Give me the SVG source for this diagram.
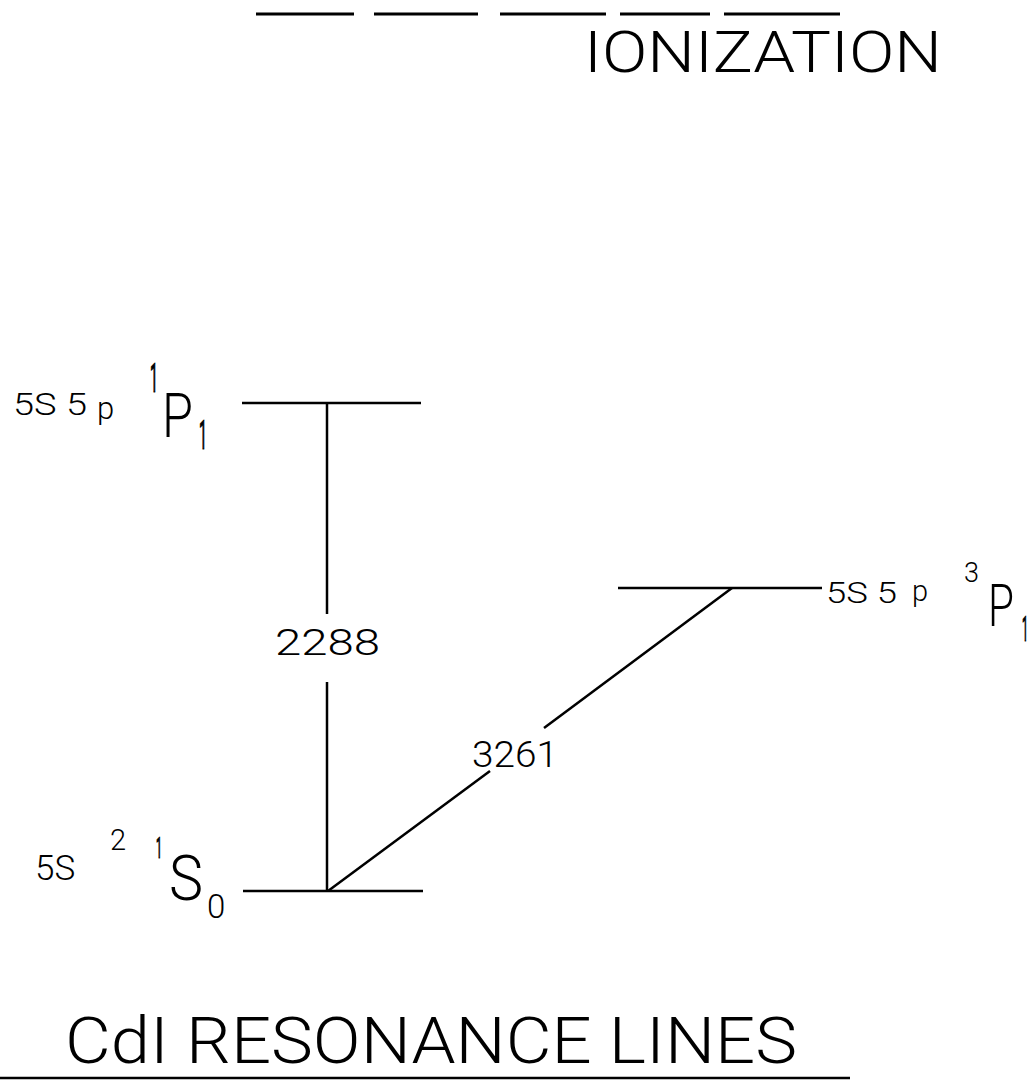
<svg xmlns="http://www.w3.org/2000/svg" width="1032" height="1082" viewBox="0 0 1032 1082">
<style>
text { font-family: Roboto, "Liberation Sans", Arial, sans-serif; font-weight: 300; fill: #000; }
text.bar { font-weight: 400; stroke: #000; stroke-width: 1.2; }
.ln { stroke: #000; stroke-width: 2.5; fill: none; stroke-linecap: butt; }
.dash { stroke: #000; stroke-width: 3; fill: none; }
</style>
<rect width="1032" height="1082" fill="#fff"/>
<g id="ionization">
  <line class="dash" x1="256" y1="14" x2="354" y2="14"/>
  <line class="dash" x1="374" y1="14" x2="478" y2="14"/>
  <line class="dash" x1="500" y1="14" x2="606" y2="14"/>
  <line class="dash" x1="620" y1="14" x2="710" y2="14"/>
  <line class="dash" x1="724" y1="14" x2="840" y2="14"/>
  <text x="584" y="72" font-size="58" textLength="358" lengthAdjust="spacingAndGlyphs">IONIZATION</text>
</g>
<g id="level-1P1">
  <line class="ln" x1="242" y1="403" x2="421" y2="403"/>
  <text x="13" y="415" font-size="31" textLength="74" lengthAdjust="spacingAndGlyphs">5S 5</text>
  <text x="97" y="419" font-size="31">p</text>
  <text class="bar" transform="translate(150,392) scale(0.35,1)" font-size="40">1</text>
  <text x="162" y="437" font-size="62" textLength="31" lengthAdjust="spacingAndGlyphs">P</text>
  <text class="bar" transform="translate(199,449) scale(0.35,1)" font-size="40">1</text>
</g>
<g id="level-3P1">
  <line class="ln" x1="618" y1="588" x2="822" y2="588"/>
  <text x="826" y="603" font-size="29" textLength="71" lengthAdjust="spacingAndGlyphs">5S 5</text>
  <text x="912" y="601" font-size="29">p</text>
  <text x="964" y="582" font-size="27">3</text>
  <text x="988" y="626" font-size="60" textLength="26" lengthAdjust="spacingAndGlyphs">P</text>
  <text class="bar" transform="translate(1022,641) scale(0.3,1)" font-size="36">1</text>
</g>
<g id="level-1S0">
  <line class="ln" x1="243" y1="891" x2="423" y2="891"/>
  <text x="35" y="880" font-size="35">5S</text>
  <text x="110" y="850" font-size="29">2</text>
  <text class="bar" transform="translate(156,858) scale(0.35,1)" font-size="30">1</text>
  <text x="169" y="900" font-size="63" textLength="34" lengthAdjust="spacingAndGlyphs">S</text>
  <text x="207" y="918" font-size="33">0</text>
</g>
<g id="connectors">
  <line class="ln" x1="327" y1="403" x2="327" y2="614"/>
  <line class="ln" x1="327" y1="682" x2="327" y2="891"/>
  <line class="ln" x1="732" y1="588" x2="544" y2="728"/>
  <line class="ln" x1="490" y1="771" x2="328" y2="891"/>
  <text x="275" y="655" font-size="36" textLength="105" lengthAdjust="spacingAndGlyphs">2288</text>
  <text x="472" y="767" font-size="36" textLength="86" lengthAdjust="spacingAndGlyphs">3261</text>
</g>
<g id="title">
  <text x="65" y="1063" font-size="64" textLength="732" lengthAdjust="spacingAndGlyphs">CdI RESONANCE LINES</text>
  <line x1="0" y1="1078" x2="850" y2="1078" stroke="#000" stroke-width="2.5"/>
</g>
</svg>
